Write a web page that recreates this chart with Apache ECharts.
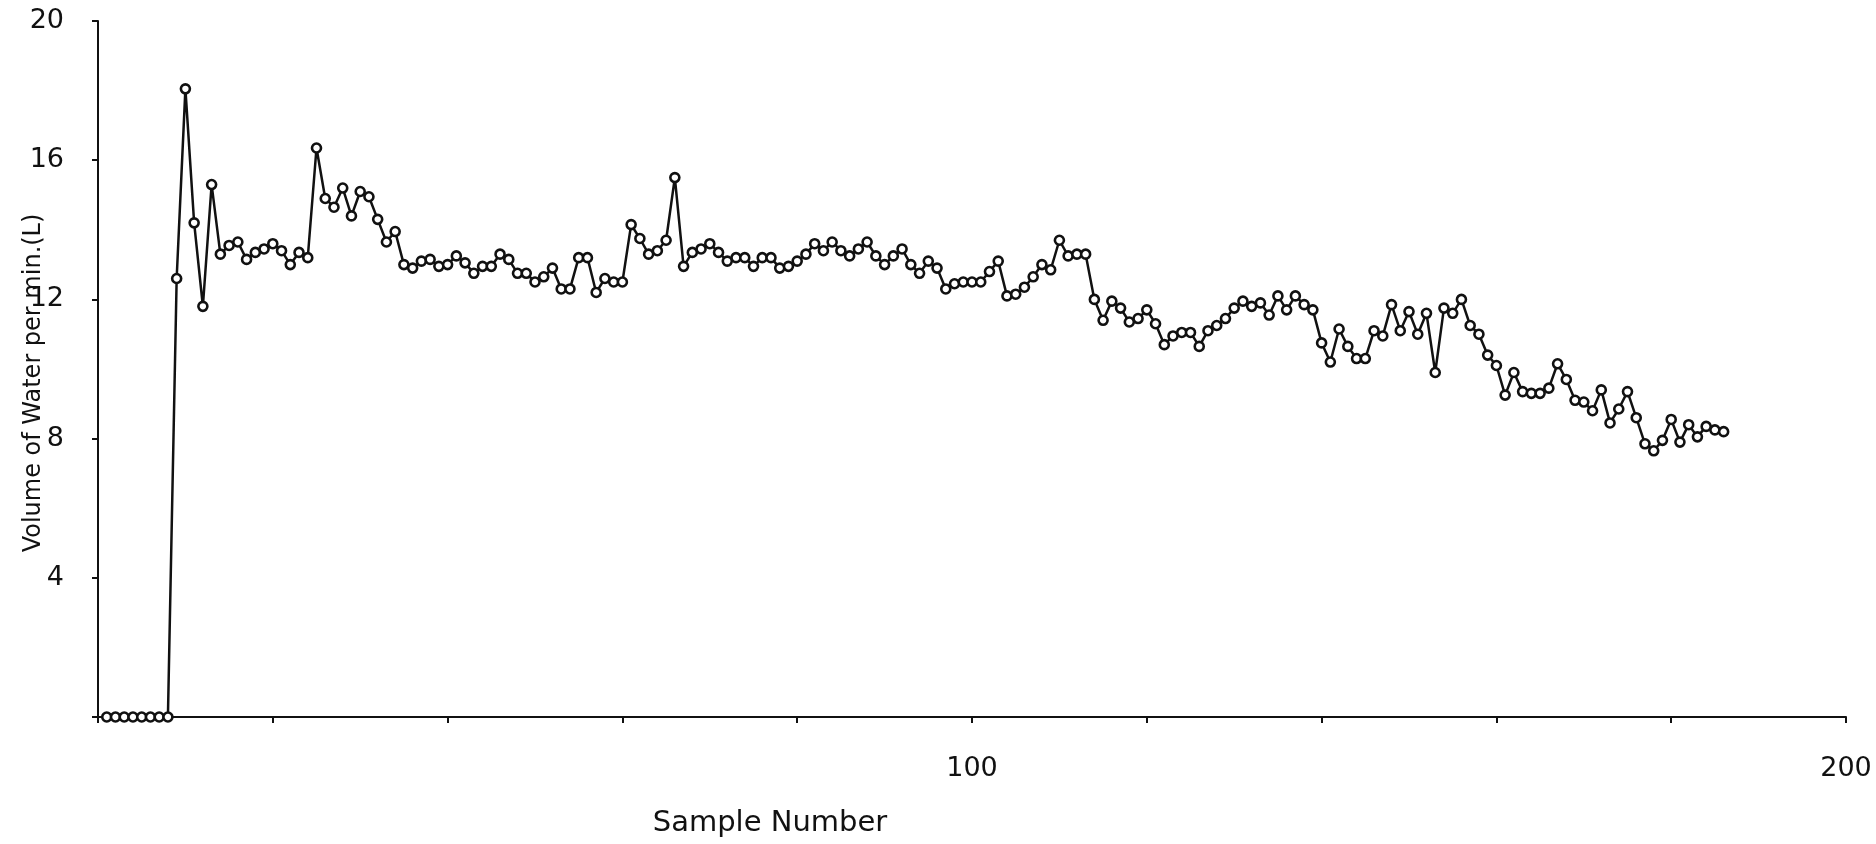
<!DOCTYPE html>
<html>
<head>
<meta charset="utf-8">
<script src="https://cdn.jsdelivr.net/npm/echarts@6/dist/echarts.min.js"></script>
<style>
  html, body { margin: 0; padding: 0; background: #ffffff; }
  #chart { width: 1876px; height: 844px; }
</style>
</head>
<body>
<div id="chart"></div>
<script>
// Water flow per minute, one reading per sample
const sampleNumbers = [];
for (let i = 1; i <= 186; i++) sampleNumbers.push(i);

const volumes = [
  0, 0, 0, 0, 0, 0, 0, 0,
  12.6, 18.05, 14.2, 11.8, 15.3, 13.3, 13.55, 13.65, 13.15, 13.35,
  13.45, 13.6, 13.4, 13.0, 13.35, 13.2, 16.35, 14.9, 14.65, 15.2,
  14.4, 15.1, 14.95, 14.3, 13.65, 13.95, 13.0, 12.9, 13.1, 13.15,
  12.95, 13.0, 13.25, 13.05, 12.75, 12.95, 12.95, 13.3, 13.15, 12.75,
  12.75, 12.5, 12.65, 12.9, 12.3, 12.3, 13.2, 13.2, 12.2, 12.6,
  12.5, 12.5, 14.15, 13.75, 13.3, 13.4, 13.7, 15.5, 12.95, 13.35,
  13.45, 13.6, 13.35, 13.1, 13.2, 13.2, 12.95, 13.2, 13.2, 12.9,
  12.95, 13.1, 13.3, 13.6, 13.4, 13.65, 13.4, 13.25, 13.45, 13.65,
  13.25, 13.0, 13.25, 13.45, 13.0, 12.75, 13.1, 12.9, 12.3, 12.45,
  12.5, 12.5, 12.5, 12.8, 13.1, 12.1, 12.15, 12.35, 12.65, 13.0,
  12.85, 13.7, 13.25, 13.3, 13.3, 12.0, 11.4, 11.95, 11.75, 11.35,
  11.45, 11.7, 11.3, 10.7, 10.95, 11.05, 11.05, 10.65, 11.1, 11.25,
  11.45, 11.75, 11.95, 11.8, 11.9, 11.55, 12.1, 11.7, 12.1, 11.85,
  11.7, 10.75, 10.2, 11.15, 10.65, 10.3, 10.3, 11.1, 10.95, 11.85,
  11.1, 11.65, 11.0, 11.6, 9.9, 11.75, 11.6, 12.0, 11.25, 11.0,
  10.4, 10.1, 9.25, 9.9, 9.35, 9.3, 9.3, 9.45, 10.15, 9.7,
  9.1, 9.05, 8.8, 9.4, 8.45, 8.85, 9.35, 8.6, 7.85, 7.65,
  7.95, 8.55, 7.9, 8.4, 8.05, 8.35, 8.25, 8.2
];

const xLabelsShown = [100, 200];
const yLabelsShown = [4, 8, 12, 16, 20];

const FONT = 'DejaVu Sans';

const chart = echarts.init(document.getElementById('chart'), null, { renderer: 'canvas' });

chart.setOption({
  backgroundColor: '#ffffff',
  animation: false,
  grid: {
    left: 98, right: 30, top: 21, bottom: 127,
    containLabel: false,
    outerBoundsMode: 'none'
  },
  // vertical title of the value axis
  graphic: [{
    type: 'text',
    x: 34,
    y: 383,
    rotation: Math.PI / 2,
    style: {
      text: 'Volume of Water per min.(L)',
      font: '24px "DejaVu Sans"',
      fill: '#111',
      textAlign: 'center',
      textVerticalAlign: 'middle'
    }
  }],
  xAxis: {
    type: 'value',
    min: 0,
    max: 200,
    interval: 20,
    name: 'Sample Number',
    nameLocation: 'middle',
    nameGap: 92,
    // the title sits left of the axis centre
    nameTextStyle: { fontFamily: FONT, fontSize: 29, color: '#111', padding: [0, 404, 0, 0] },
    axisLine: { show: true, lineStyle: { color: '#111', width: 2 } },
    axisTick: { show: true, inside: false, length: 6, lineStyle: { color: '#111', width: 2 } },
    axisLabel: {
      margin: 38,
      fontFamily: FONT,
      fontSize: 27,
      color: '#111',
      formatter: v => (xLabelsShown.includes(v) ? String(v) : '')
    },
    splitLine: { show: false }
  },
  yAxis: {
    type: 'value',
    min: 0,
    max: 20,
    interval: 4,
    axisLine: { show: true, lineStyle: { color: '#111', width: 2 } },
    axisTick: { show: true, inside: false, length: 6, lineStyle: { color: '#111', width: 2 } },
    axisLabel: {
      margin: 34,
      fontFamily: FONT,
      fontSize: 27,
      color: '#111',
      formatter: v => (yLabelsShown.includes(v) ? String(v) : '')
    },
    splitLine: { show: false }
  },
  series: [{
    type: 'line',
    data: sampleNumbers.map((s, i) => [s, volumes[i]]),
    clip: false,
    showAllSymbol: true,
    symbol: 'circle',
    symbolSize: 9,
    lineStyle: { color: '#111', width: 2.5 },
    itemStyle: { color: '#ffffff', borderColor: '#111', borderWidth: 2.6 }
  }]
});
</script>
</body>
</html>
